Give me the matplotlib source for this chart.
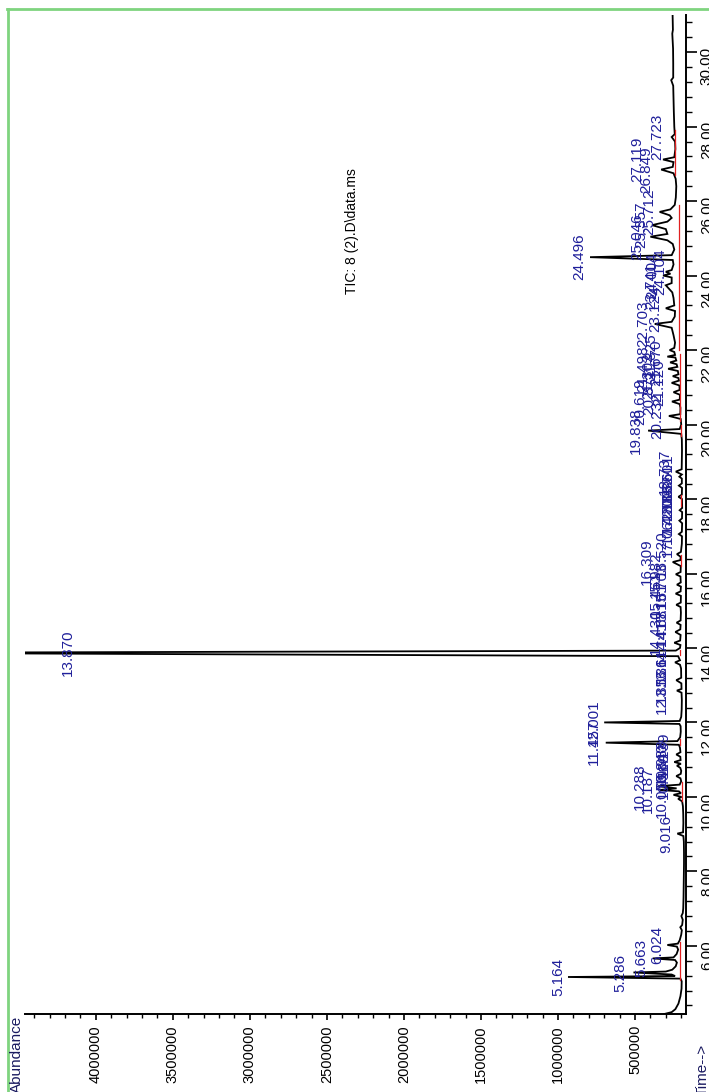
import numpy as np
import matplotlib
matplotlib.use("Agg")
import matplotlib.pyplot as plt
from matplotlib.ticker import MultipleLocator, FormatStrFormatter
from matplotlib.lines import Line2D

plt.rcParams['font.family'] = ['Liberation Sans', 'DejaVu Sans']

# Хроматограмма: время (мин) и интенсивность (тыс.)
trace_time = [
    4.17, 4.22, 4.30, 4.45, 4.65, 4.85, 5.05, 5.12, 5.164, 5.19, 5.23, 5.286, 5.31, 5.36,
    5.45, 5.55, 5.62, 5.663, 5.69, 5.78, 5.90, 5.98, 6.024, 6.06, 6.15, 6.30, 6.42, 6.50,
    6.56, 6.70, 6.80, 6.88, 7.00, 7.30, 7.60, 7.90, 8.20, 8.50, 8.80, 8.95, 9.016, 9.05,
    9.30, 9.55, 9.75, 9.88, 9.95, 10.00, 10.056, 10.10, 10.15, 10.187, 10.23, 10.288, 10.33,
    10.42, 10.50, 10.56, 10.62, 10.70, 10.78, 10.84, 10.89, 10.938, 10.99, 11.08, 11.14,
    11.20, 11.32, 11.40, 11.457, 11.50, 11.60, 11.75, 11.90, 11.96, 12.001, 12.04, 12.15,
    12.35, 12.60, 12.80, 12.856, 12.90, 13.05, 13.136, 13.20, 13.45, 13.55, 13.614, 13.67,
    13.78, 13.87, 13.93, 14.00, 14.08, 14.141, 14.20, 14.35, 14.43, 14.50, 14.62, 14.68,
    14.74, 14.95, 15.10, 15.16, 15.22, 15.40, 15.46, 15.52, 15.65, 15.70, 15.76, 15.92,
    15.98, 16.04, 16.20, 16.309, 16.36, 16.45, 16.52, 16.58, 16.80, 17.00, 17.06, 17.12,
    17.35, 17.42, 17.48, 17.65, 17.70, 17.76, 18.00, 18.06, 18.12, 18.30, 18.36, 18.42,
    18.55, 18.60, 18.66, 18.737, 18.80, 19.00, 19.30, 19.60, 19.75, 19.838, 19.88, 20.00,
    20.15, 20.232, 20.28, 20.45, 20.55, 20.619, 20.67, 20.80, 20.87, 20.93, 21.05, 21.12,
    21.18, 21.25, 21.30, 21.35, 21.44, 21.498, 21.55, 21.62, 21.67, 21.72, 21.80, 21.825,
    21.87, 21.95, 22.00, 22.06, 22.20, 22.40, 22.60, 22.703, 22.76, 22.90, 23.05, 23.124,
    23.20, 23.40, 23.55, 23.741, 23.80, 23.95, 24.004, 24.05, 24.104, 24.15, 24.30, 24.42,
    24.496, 24.55, 24.70, 24.85, 24.95, 25.046, 25.12, 25.25, 25.357, 25.45, 25.55, 25.62,
    25.712, 25.78, 25.90, 26.10, 26.40, 26.60, 26.75, 26.849, 26.92, 27.05, 27.119, 27.18,
    27.40, 27.60, 27.723, 27.80, 28.00, 28.40, 28.80, 29.10, 29.25, 29.32, 29.70, 30.10,
    30.50, 30.60, 31.00,
]
trace_k = [
    310, 262, 238, 218, 205, 198, 197, 205, 935, 240, 262, 510, 300, 258,
    236, 228, 240, 383, 250, 230, 220, 228, 290, 222, 210, 200, 196, 206,
    194, 190, 199, 190, 187, 185, 184, 183, 182, 182, 183, 186, 225, 188,
    186, 187, 189, 194, 220, 198, 250, 202, 215, 340, 230, 352, 210,
    200, 205, 232, 203, 200, 206, 228, 202, 245, 204, 206, 232,
    205, 208, 215, 690, 225, 207, 203, 204, 212, 700, 210, 200,
    197, 196, 198, 228, 198, 199, 232, 200, 201, 208, 240, 208,
    220, 5500, 235, 208, 205, 245, 207, 204, 238, 206, 204, 230,
    204, 202, 204, 232, 203, 202, 236, 204, 202, 228, 203, 205,
    235, 204, 203, 255, 205, 204, 228, 202, 196, 195, 215, 196,
    194, 212, 195, 194, 210, 194, 195, 218, 196, 195, 215, 196,
    196, 212, 196, 235, 197, 196, 195, 196, 200, 415, 210, 200,
    203, 280, 206, 205, 210, 260, 210, 208, 250, 210, 212, 262,
    215, 218, 255, 218, 222, 285, 225, 230, 272, 232, 238, 290,
    240, 245, 275, 245, 240, 250, 262, 372, 262, 242, 240, 300,
    245, 250, 258, 300, 262, 262, 318, 270, 300, 262, 250, 255,
    792, 262, 245, 255, 290, 400, 290, 300, 390, 290, 262, 275,
    340, 270, 242, 235, 232, 236, 250, 330, 255, 250, 318, 245,
    238, 240, 262, 242, 245, 248, 250, 252, 265, 252, 252, 253,
    258, 254, 256,
]

# Подписи пиков: текст, время, позиция подписи (тыс.)
peak_labels = ["5.164", "5.286", "5.663", "6.024", "9.016", "10.056", "10.187", "10.288",
               "10.560", "10.840", "10.938", "11.139", "11.457", "12.001", "12.856",
               "13.136", "13.614", "14.141", "14.430", "14.681", "15.161", "15.461",
               "15.703", "15.982", "16.309", "16.520", "17.062", "17.420", "17.703",
               "18.062", "18.361", "18.601", "18.737", "19.838", "20.232", "20.619",
               "20.871", "21.120", "21.302", "21.498", "21.670", "21.825", "22.703",
               "23.124", "23.741", "24.004", "24.104", "24.496", "25.046", "25.357",
               "25.712", "26.849", "27.119", "27.723"]
label_time = [5.164, 5.286, 5.663, 6.024, 9.016, 10.056, 10.187, 10.288,
              10.56, 10.84, 10.938, 11.14, 11.457, 12.001, 12.856,
              13.136, 13.614, 14.141, 14.43, 14.68, 15.16, 15.46,
              15.70, 15.98, 16.309, 16.52, 17.06, 17.42, 17.70,
              18.06, 18.36, 18.60, 18.737, 19.838, 20.232, 20.619,
              20.87, 21.12, 21.30, 21.498, 21.67, 21.825, 22.703,
              23.124, 23.741, 24.004, 24.104, 24.496, 25.046, 25.357,
              25.712, 26.849, 27.119, 27.723]
label_k = [935, 530, 395, 290, 232, 260, 352, 405,
           250, 262, 258, 250, 700, 700, 258,
           262, 262, 262, 300, 260, 258, 300,
           258, 300, 360, 262, 222, 222, 222,
           222, 222, 222, 240, 430, 290, 400,
           340, 280, 350, 380, 300, 330, 380,
           305, 330, 320, 270, 800, 420, 395,
           345, 365, 420, 292]

# Красные базовые линии интегрирования: начало, конец, уровень (тыс.)
base_t0 = [5.08, 9.90, 11.40, 13.80, 16.20, 17.80, 19.70, 20.10, 22.00, 26.70]
base_t1 = [6.10, 10.40, 11.55, 13.95, 16.50, 18.10, 20.00, 21.90, 25.90, 27.90]
base_k = [205, 192, 208, 205, 200, 200, 202, 205, 215, 240]

fig = plt.figure(figsize=(7.09, 10.92), dpi=100)
W, H = 709, 1092
ax = fig.add_axes([25 / W, 1 - 1014 / H, (686 - 25) / W, (1014 - 15) / H])

t = np.array(trace_time)
a = np.array(trace_k) * 1000.0
ax.plot(a, t, color='black', lw=1.3, solid_joinstyle='miter')

for t0, t1, k in zip(base_t0, base_t1, base_k):
    ax.plot([k * 1000, k * 1000], [t0, t1], color='#e02020', lw=0.9)

lab_col = '#1f1f9a'
for txt, tt, k in zip(peak_labels, label_time, label_k):
    ax.annotate(txt, xy=(k * 1000, tt), xytext=(-3, 0), textcoords='offset pixels',
                ha='right', va='center', rotation=90, fontsize=11, color=lab_col)
# главный пик уходит за шкалу
ax.text(4.18e6, 13.87, "13.870", ha='center', va='center', rotation=90,
        fontsize=11, color=lab_col)

ax.set_xlim(4.46e6, 1.69e5)
ax.set_ylim(4.17, 31.0)

ax.yaxis.tick_right()
ax.spines['top'].set_visible(False)
ax.spines['left'].set_visible(False)
ax.spines['right'].set_linewidth(1.4)
ax.spines['bottom'].set_linewidth(1.4)

ax.yaxis.set_major_locator(MultipleLocator(2))
ax.yaxis.set_minor_locator(MultipleLocator(0.4))
ax.yaxis.set_major_formatter(FormatStrFormatter('%.2f'))
ax.xaxis.set_major_locator(MultipleLocator(500000))
ax.xaxis.set_minor_locator(MultipleLocator(100000))
ax.xaxis.set_major_formatter(FormatStrFormatter('%d'))

ax.tick_params(axis='y', which='major', length=8, width=1.2, labelsize=11,
               labelrotation=90, pad=2, right=True, left=False)
ax.tick_params(axis='y', which='minor', length=4, width=1.0, right=True, left=False)
ax.tick_params(axis='x', which='major', length=4, width=1.2, labelsize=10.5,
               labelrotation=90, pad=4)
ax.tick_params(axis='x', which='minor', length=3, width=1.0)

fig.text(352 / W, 1 - 231 / H, "TIC: 8 (2).D\\data.ms", rotation=90,
         ha='center', va='center', fontsize=10, color='black')
fig.text(17 / W, 1 - 1016 / H, "Abundance", rotation=90, ha='center', va='top',
         fontsize=11, color='#1a1a60')
fig.text(703 / W, 1 - 1044 / H, "Time-->", rotation=90, ha='center', va='top',
         fontsize=11, color='#1a1a60')

# зелёная рамка
fig.add_artist(Line2D([7 / W, 1], [1 - 9 / H, 1 - 9 / H], color='#7fd47f', lw=2))
fig.add_artist(Line2D([8 / W, 8 / W], [0, 1 - 9 / H], color='#7fd47f', lw=2))

fig.savefig("out.png", dpi=100)
